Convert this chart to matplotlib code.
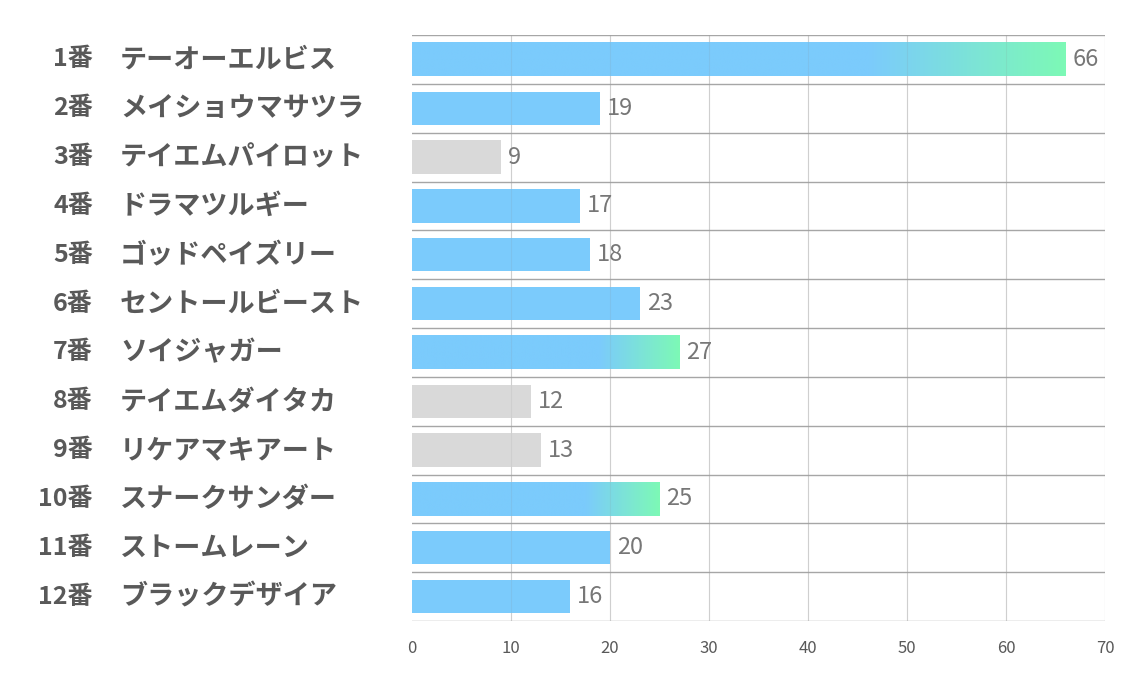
import numpy as np
import matplotlib
matplotlib.use("Agg")
import matplotlib.pyplot as plt
from matplotlib import transforms
from matplotlib.colors import LinearSegmentedColormap

plt.rcParams['font.family'] = ['Noto Sans CJK JP', 'DejaVu Sans']

# データ
numbers = ["1番", "2番", "3番", "4番", "5番", "6番", "7番", "8番", "9番", "10番", "11番", "12番"]
names = ["テーオーエルビス", "メイショウマサツラ", "テイエムパイロット", "ドラマツルギー",
         "ゴッドペイズリー", "セントールビースト", "ソイジャガー", "テイエムダイタカ",
         "リケアマキアート", "スナークサンダー", "ストームレーン", "ブラックデザイア"]
values = [66, 19, 9, 17, 18, 23, 27, 12, 13, 25, 20, 16]
kinds = ["grad", "blue", "gray", "blue", "blue", "blue", "grad", "gray", "gray", "grad", "blue", "blue"]
xticks = [0, 10, 20, 30, 40, 50, 60, 70]

blue = "#7BCBFC"
green = "#7DF9B6"
gray = "#D9D9D9"
# 右端の3割だけ青→緑
cmap = LinearSegmentedColormap.from_list("bg", [(0, blue), (0.7, blue), (1, green)])

fig = plt.figure(figsize=(11.34, 6.8), dpi=100)
ax = fig.add_axes([412 / 1134, 59 / 680, 693 / 1134, 586 / 680])

h = 0.68
grad = np.linspace(0, 1, 512).reshape(1, -1)
for i, (v, k) in enumerate(zip(values, kinds)):
    if k == "grad":
        ax.imshow(grad, cmap=cmap, aspect="auto", zorder=2,
                  extent=[0, v, i + h / 2, i - h / 2])
    else:
        c = gray if k == "gray" else blue
        ax.barh(i, v, height=h, color=c, zorder=2)
    ax.annotate(str(v), (v, i), xytext=(5, 0), textcoords="offset points",
                va="center", ha="left", fontsize=17, color="#777777")

ax.set_xlim(0, 70)
ax.set_ylim(len(values) - 0.5, -0.5)
ax.set_xticks(xticks)
ax.set_yticks([])
ax.tick_params(axis="x", length=0, pad=14, labelsize=12, labelcolor="#595959")
for s in ax.spines.values():
    s.set_visible(False)

for xt in xticks[1:]:
    ax.axvline(xt, color="#D9D9D9", lw=0.8, zorder=1)
    ax.axvline(xt, color="#888888", lw=0.8, alpha=0.12, zorder=4)
for b in np.arange(-0.5, len(values), 1.0):
    ax.axhline(b, color="#A6A6A6", lw=1.0, zorder=1)

trans = transforms.blended_transform_factory(fig.transFigure, ax.transData)
for i, (n, nm) in enumerate(zip(numbers, names)):
    ax.text(93 / 1134, i, n, transform=trans, ha="right", va="center",
            fontsize=18, fontweight="bold", color="#595959")
    ax.text(120 / 1134, i, nm, transform=trans, ha="left", va="center",
            fontsize=19.5, fontweight="bold", color="#595959")

fig.savefig("out.png", dpi=100)
